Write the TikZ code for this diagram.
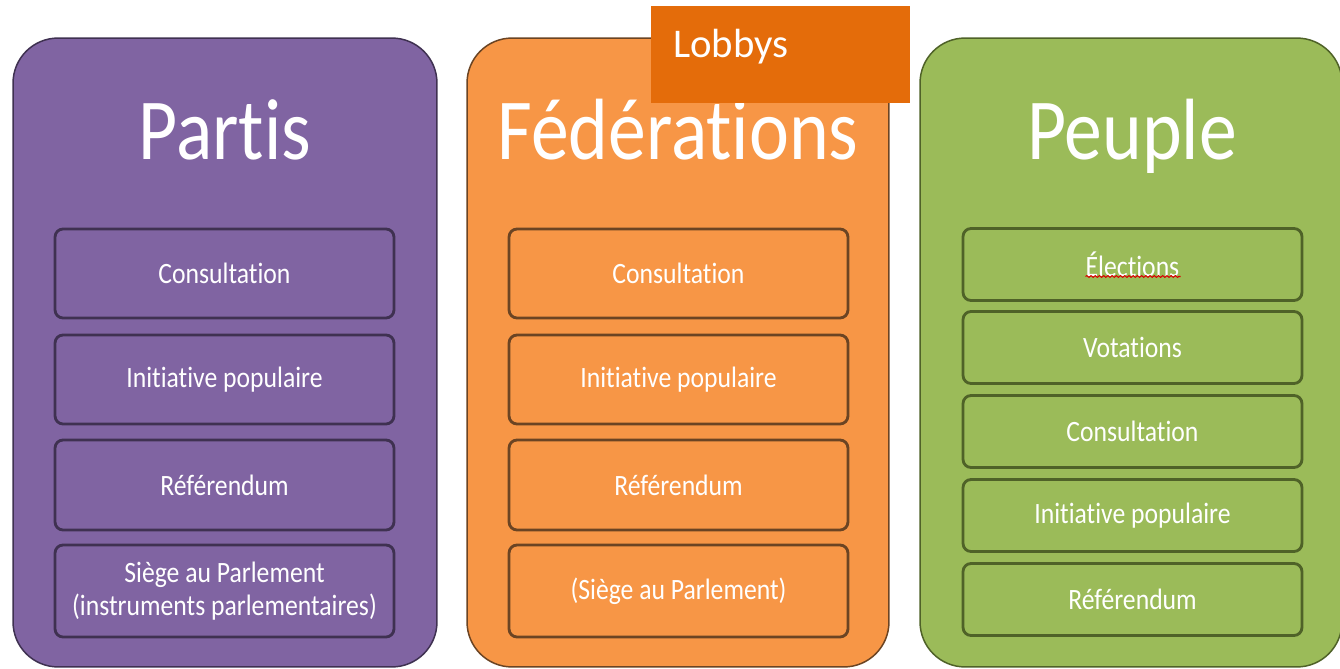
\documentclass[tikz,border=0pt]{standalone}
\usepackage{fontspec}
\setmainfont{Carlito}[Ligatures=NoCommon]
\newfontfamily\narrowfont[FakeStretch=0.87,Ligatures=NoCommon]{Carlito}
\usepackage{tikz}
\usetikzlibrary{positioning,decorations.pathmorphing}
\definecolor{partisfill}{HTML}{8064A2}
\definecolor{partisline}{HTML}{3F3151}
\definecolor{fedfill}{HTML}{F79646}
\definecolor{fedline}{HTML}{6B4423}
\definecolor{peuplefill}{HTML}{9BBB59}
\definecolor{peupleline}{HTML}{4F6228}
\definecolor{lobbyfill}{HTML}{E46C0A}
\begin{document}
\begin{tikzpicture}[x=0.02cm,y=-0.02cm,
  outer/.style={draw,rounded corners=0.9cm,line width=0.85pt,minimum height=12.58cm,inner sep=0pt},
  item/.style={draw,rounded corners=0.16cm,line width=1.6pt,minimum width=6.78cm,inner sep=0pt,text=white,align=center,font=\narrowfont\fontsize{16.8}{18.7}\selectfont},
  title/.style={anchor=base,text=white,inner sep=0pt,font=\narrowfont\fontsize{49.5}{50}\selectfont}]
  \useasboundingbox (0,0) rectangle (1340,669);

  % the three columns
  \node[outer,fill=partisfill,draw=partisline,minimum width=8.48cm] (partis) at (225,352.5) {};
  \node[outer,fill=fedfill,draw=fedline,minimum width=8.44cm] (fed) at (678,352.5) {};
  \node[outer,fill=peuplefill,draw=peupleline,minimum width=8.44cm] (peuple) at (1131,352.5) {};

  \node[title] (tpartis) at (225,160) {Partis};
  \node[title] (tfed) at (678,160) {Fédérations};
  \node[title] (tpeuple) at (1132,160) {Peuple};

  % lobbys
  \node[fill=lobbyfill,minimum width=5.18cm,minimum height=1.94cm,inner sep=0pt] (lobbys) at (780.5,54.5) {};
  \node[anchor=base west,text=white,inner sep=0pt,font=\fontsize{23.2}{24}\selectfont] (tlobbys) at (673,58) {Lobbys};

  % partis
  \node[item,fill=partisfill,draw=partisline,minimum height=1.78cm] (p1) at (224.5,273.5) {Consultation};
  \node[item,fill=partisfill,draw=partisline,minimum height=1.78cm] (p2) at (224.5,379.5) {Initiative populaire};
  \node[item,fill=partisfill,draw=partisline,minimum height=1.8cm] (p3) at (224.5,485) {Référendum};
  \node[item,fill=partisfill,draw=partisline,minimum height=1.84cm] (p4) at (224.5,591) {Siège au Parlement\\(instruments parlementaires)};

  % federations
  \node[item,fill=fedfill,draw=fedline,minimum height=1.78cm] (f1) at (678.5,273.5) {Consultation};
  \node[item,fill=fedfill,draw=fedline,minimum height=1.78cm] (f2) at (678.5,379.5) {Initiative populaire};
  \node[item,fill=fedfill,draw=fedline,minimum height=1.8cm] (f3) at (678.5,485) {Référendum};
  \node[item,fill=fedfill,draw=fedline,minimum height=1.84cm] (f4) at (678.5,591) {(Siège au Parlement)};

  % peuple
  \node[item,fill=peuplefill,draw=peupleline,minimum height=1.44cm] (e1) at (1132.5,264.5) {Élections};
  \node[item,fill=peuplefill,draw=peupleline,minimum height=1.44cm] (e2) at (1132.5,347.5) {Votations};
  \node[item,fill=peuplefill,draw=peupleline,minimum height=1.44cm] (e3) at (1132.5,431.5) {Consultation};
  \node[item,fill=peuplefill,draw=peupleline,minimum height=1.44cm] (e4) at (1132.5,515.5) {Initiative populaire};
  \node[item,fill=peuplefill,draw=peupleline,minimum height=1.44cm] (e5) at (1132.5,599.5) {Référendum};

  \draw[red!85!black,line width=0.6pt,decorate,decoration={snake,amplitude=0.5pt,segment length=2.4pt}] (e1.center) ++(-47,12) -- ++(95,0);
 \end{tikzpicture}
\end{document}
